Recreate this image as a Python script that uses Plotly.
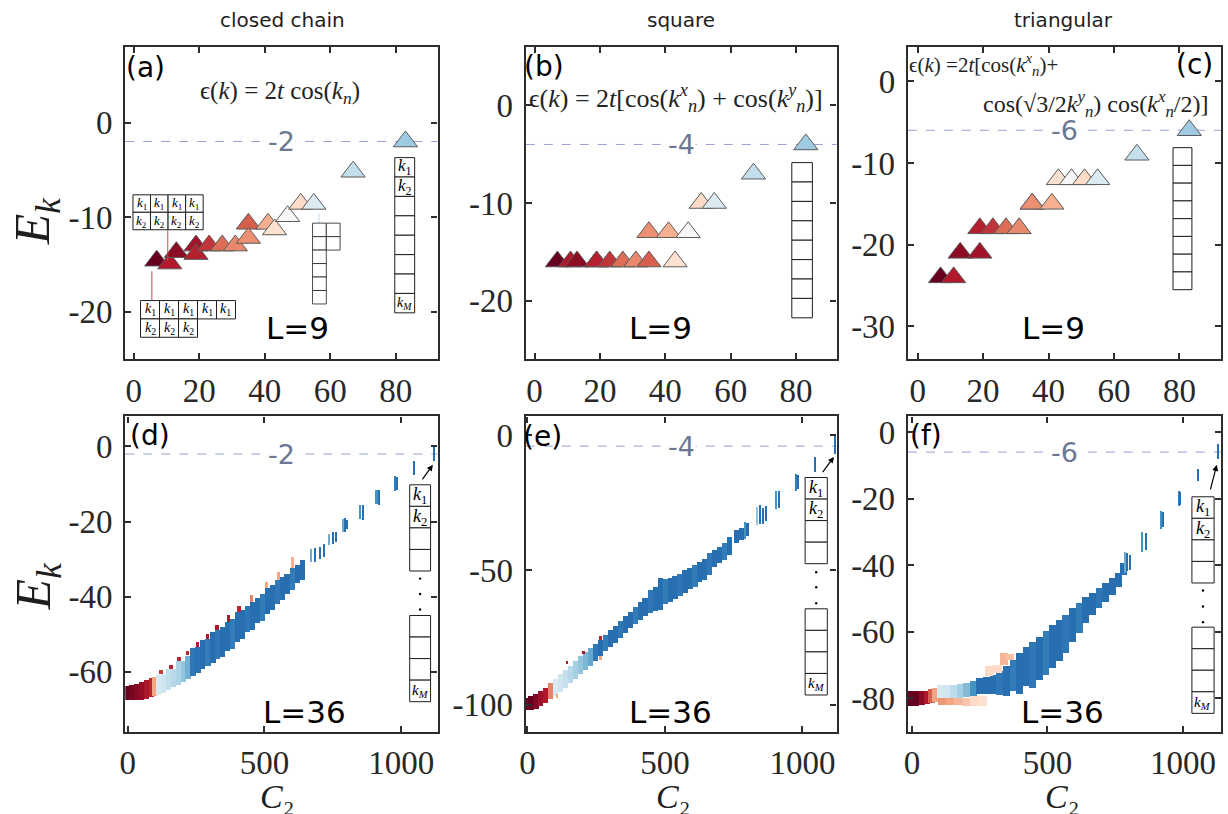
import plotly.graph_objects as go

W, H = 1228, 814

# ---------------- data ----------------
# top row (L=9): Casimir C2 and energies
c2_top = [7, 11, 13, 19, 19, 23, 27, 31, 35, 35, 41, 43, 47, 51, 55, 67, 83]
e_chain = [-14.6, -14.9, -13.7, -13.0, -13.9, -13.0, -13.0, -13.0, -10.7, -12.2, -10.7, -11.3, -9.9, -8.6, -8.6, -5.2, -2.0]
e_square = [-16, -16, -16, -16, -16, -16, -16, -16, -16, -13, -13, -16, -13, -10, -10, -7, -4]
e_tri = [-24, -24, -21, -21, -18, -18, -18, -18, -15, -15, -15, -12, -12, -12, -12, -9, -6]
col_top = [0.00, 0.10, 0.05, 0.08, 0.11, 0.14, 0.22, 0.26, 0.20, 0.27, 0.32, 0.42, 0.50, 0.40, 0.57, 0.62, 0.68]

# bottom row (L=36): dense band read as columns (C2, upper E, lower E, colour value)
d_c2 = [-4, 14, 32, 51, 69, 87, 99, 113, 131, 150, 168, 186, 204, 222, 240, 258, 276, 295, 313, 331,
        349, 367, 385, 403, 421, 440, 458, 476, 494, 512, 530, 548, 566, 584, 603, 621, 639]
d_hi = [-63.9, -63.7, -63.3, -62.8, -62.3, -61.8, -61.5, -60.9, -60.8, -59.5, -59.3, -57.4, -57.2, -55.9,
        -53.8, -53.6, -51.8, -51.5, -49.6, -49.1, -48.3, -47.0, -46.0, -44.3, -43.6, -42.7, -41.6, -40.4,
        -39.3, -37.7, -37.1, -35.7, -34.8, -34.0, -32.6, -31.7, -30.4]
d_lo = [-67.7, -67.7, -67.6, -67.6, -67.4, -67.0, -66.7, -66.3, -65.7, -65.0, -64.3, -63.6, -62.9, -62.2,
        -61.4, -60.5, -59.5, -58.6, -57.7, -56.8, -56.1, -54.5, -54.1, -52.3, -51.4, -49.6, -49.0, -47.2,
        -46.5, -44.7, -43.8, -42.0, -41.1, -39.3, -38.4, -36.6, -35.7]
d_col = [0.00, 0.02, 0.04, 0.06, 0.09, 0.12, 0.30, 0.58, 0.60, 0.62, 0.64, 0.66, 0.70, 0.74, 0.86, 0.87,
         0.88, 0.85, 0.88, 0.86, 0.88, 0.88, 0.85, 0.88, 0.88, 0.86, 0.88, 0.88, 0.85, 0.88, 0.88, 0.86,
         0.88, 0.88, 0.85, 0.88, 0.88]
# separated groups of levels at large C2
d_g_c2 = [672, 688, 704, 720, 738, 752, 764, 790, 798, 805, 852, 862, 912, 922, 978, 986, 1049, 1122]
d_g_hi = [-27.5, -27.2, -26.8, -26.2, -23.5, -23.0, -22.8, -19.4, -19.2, -19.6, -15.8, -15.6, -11.6, -11.8, -8.0, -8.2, -4.0, 0.0]
d_g_lo = [-31.0, -30.8, -30.2, -29.6, -26.4, -26.0, -25.5, -23.0, -22.9, -22.0, -19.5, -19.7, -15.4, -15.6, -12.0, -11.8, -7.6, -4.0]
d_g_col = [0.75, 0.88, 0.88, 0.88, 0.75, 0.88, 0.88, 0.75, 0.88, 0.88, 0.80, 0.88, 0.80, 0.88, 0.85, 0.88, 0.88, 0.88]
# red states on the upper edge
d_r_c2 = [123, 159, 189, 220, 256, 293, 328, 369, 408, 455, 508, 552, 603]
d_r_hi = [-59.7, -58.3, -56.3, -54.5, -52.3, -50.0, -47.8, -45.1, -42.6, -39.8, -36.2, -33.5, -29.5]
d_r_lo = [-60.8, -59.4, -57.2, -55.8, -53.6, -51.4, -49.1, -46.9, -44.2, -41.5, -37.7, -35.7, -32.6]
d_r_col = [0.15, 0.12, 0.12, 0.12, 0.10, 0.10, 0.10, 0.10, 0.12, 0.25, 0.30, 0.30, 0.32]

e_c2 = [-6, 12, 30, 48, 66, 84, 102, 120, 138, 156, 174, 193, 211, 229, 247, 265, 283, 301, 319, 337,
        355, 373, 391, 409, 427, 446, 464, 482, 500, 518, 536, 554, 572, 590, 608, 626, 644, 662, 680,
        698, 717, 735, 759, 777]
e_hi = [-97.5, -96.9, -96.3, -95.1, -93.8, -92.0, -90.5, -88.9, -87.3, -85.8, -84.0, -82.2, -80.7, -79.1,
        -77.5, -76.0, -74.2, -72.3, -70.8, -69.2, -67.4, -65.6, -64.0, -61.9, -60.6, -57.6, -56.5, -53.3,
        -53.5, -53.3, -52.5, -51.5, -50.2, -49.3, -48.3, -47.3, -46.2, -44.0, -42.8, -41.6, -40.0, -37.9,
        -35.4, -34.5]
e_lo = [-102.1, -102.1, -101.8, -100.6, -99.6, -98.2, -96.9, -95.4, -93.8, -92.2, -90.5, -88.9, -87.3,
        -85.8, -84.0, -82.2, -80.3, -78.7, -77.2, -75.4, -73.6, -71.7, -70.1, -68.6, -67.4, -66.2, -65.2,
        -64.9, -62.7, -61.9, -61.0, -59.8, -58.8, -57.3, -56.3, -54.5, -53.9, -52.0, -48.9, -47.7, -46.5,
        -44.6, -40.3, -39.0]
e_col = [0.00, 0.00, 0.03, 0.07, 0.10, 0.25, 0.58, 0.60, 0.62, 0.64, 0.67, 0.70, 0.73, 0.76, 0.86, 0.88,
         0.85, 0.88, 0.88, 0.86, 0.88, 0.88, 0.85, 0.88, 0.88, 0.86, 0.88, 0.88, 0.85, 0.88, 0.88, 0.86,
         0.88, 0.88, 0.85, 0.88, 0.88, 0.86, 0.88, 0.88, 0.85, 0.88, 0.88, 0.88]
e_g_c2 = [790, 800, 835, 845, 858, 866, 905, 915, 975, 983, 1045, 1118]
e_g_hi = [-32.3, -32.8, -26.6, -26.2, -27.0, -26.5, -20.7, -21.0, -14.5, -15.0, -8.4, -0.4]
e_g_lo = [-38.5, -37.5, -33.6, -33.2, -33.0, -32.0, -27.4, -27.0, -20.7, -20.0, -13.9, -7.1]
e_g_col = [0.80, 0.88, 0.70, 0.88, 0.88, 0.88, 0.80, 0.88, 0.85, 0.88, 0.88, 0.88]
e_r_c2 = [108, 144, 204, 265, 265]
e_r_hi = [-96.3, -84.0, -80.3, -74.8, -82.2]
e_r_lo = [-97.5, -85.2, -81.5, -76.0, -83.4]
e_r_col = [0.30, 0.10, 0.10, 0.12, 0.30]

f_c2 = [-12, 12, 37, 55, 73, 85, 104, 128, 152, 177, 201, 226, 250, 274, 299, 323, 348, 372, 396, 421,
        445, 470, 494, 518, 543, 567, 592, 616, 640, 665, 689, 714, 738, 762, 781]
f_hi = [-78.0, -78.0, -78.0, -78.0, -77.3, -77.0, -76.0, -76.0, -76.0, -75.8, -75.5, -75.0, -74.0, -73.8,
        -73.0, -72.0, -70.3, -68.5, -66.5, -64.7, -63.1, -61.6, -59.8, -58.1, -56.6, -55.1, -53.1, -51.6,
        -49.8, -48.4, -47.1, -45.6, -44.1, -42.4, -39.6]
f_lo = [-82.3, -82.3, -82.1, -81.7, -81.5, -81.3, -80.0, -80.0, -80.0, -80.0, -79.7, -79.3, -78.7, -78.7,
        -78.7, -79.0, -79.5, -78.0, -78.7, -76.5, -77.0, -74.5, -73.0, -71.0, -69.0, -66.5, -63.1, -60.6,
        -57.6, -55.1, -53.1, -51.1, -49.1, -46.6, -43.1]
f_col = [0.00, 0.00, 0.05, 0.10, 0.20, 0.30, 0.58, 0.60, 0.63, 0.67, 0.72, 0.80, 0.88, 0.88, 0.88, 0.86,
         0.88, 0.85, 0.88, 0.88, 0.86, 0.88, 0.85, 0.88, 0.88, 0.86, 0.88, 0.85, 0.88, 0.88, 0.86, 0.88,
         0.88, 0.88, 0.88]
f_g_c2 = [785, 795, 805, 850, 862, 918, 926, 984, 990, 1055, 1128]
f_g_hi = [-36.2, -36.5, -37.0, -30.2, -30.5, -23.7, -24.0, -17.7, -18.0, -11.2, -3.8]
f_g_lo = [-42.6, -42.0, -41.5, -36.1, -35.5, -29.2, -28.5, -22.2, -22.0, -14.7, -8.3]
f_g_col = [0.75, 0.88, 0.88, 0.80, 0.88, 0.80, 0.88, 0.85, 0.88, 0.88, 0.88]
f_r_c2 = [110, 140, 170, 200, 230, 260, 285, 315, 340, 360]
f_r_hi = [-80.0, -80.0, -80.0, -80.0, -79.5, -79.5, -70.5, -70.0, -66.5, -66.8]
f_r_lo = [-82.0, -82.0, -82.0, -82.3, -82.5, -82.5, -73.5, -72.5, -70.0, -68.5]
f_r_col = [0.28, 0.30, 0.33, 0.36, 0.40, 0.42, 0.40, 0.40, 0.33, 0.35]

# axis ticks
top_xticks = [0, 20, 40, 60, 80]
bot_xticks = [0, 500, 1000]
yt_a = [0, -10, -20]
yt_b = [0, -10, -20]
yt_c = [0, -10, -20, -30]
yt_d = [0, -20, -40, -60]
yt_e = [0, -50, -100]
yt_f = [0, -20, -40, -60, -80]

RDBU = [[0.0, 'rgb(103,0,31)'], [0.1, 'rgb(178,24,43)'], [0.2, 'rgb(214,96,77)'],
        [0.3, 'rgb(244,165,130)'], [0.4, 'rgb(253,219,199)'], [0.5, 'rgb(247,247,247)'],
        [0.6, 'rgb(209,229,240)'], [0.7, 'rgb(146,197,222)'], [0.8, 'rgb(67,147,195)'],
        [0.9, 'rgb(33,102,172)'], [1.0, 'rgb(5,48,97)']]

SERIF = "Liberation Serif"
SANS = "DejaVu Sans"
AX = "rgb(45,45,45)"


def px(x):
    return x / W


def py(y):
    return 1 - y / H


fig = go.Figure()

# ---- top row triangles ----
for k, ev in zip(['', '2', '3'], [e_chain, e_square, e_tri]):
    fig.add_trace(go.Scatter(
        x=c2_top, y=ev, mode='markers', xaxis='x' + k, yaxis='y' + k, showlegend=False,
        marker=dict(symbol='triangle-up', size=21, color=col_top, colorscale=RDBU, cmin=0, cmax=1,
                    line=dict(color='rgb(90,90,90)', width=1))))


def band(c2, hi, lo, col, ax, width):
    fig.add_trace(go.Bar(
        x=c2, y=[h - l for h, l in zip(hi, lo)], base=lo, width=width,
        xaxis='x' + ax, yaxis='y' + ax, showlegend=False,
        marker=dict(color=col, colorscale=RDBU, cmin=0, cmax=1, line=dict(width=0))))


band(d_c2, d_hi, d_lo, d_col, '4', 19)
band(d_g_c2, d_g_hi, d_g_lo, d_g_col, '4', 6)
band(d_r_c2, d_r_hi, d_r_lo, d_r_col, '4', 12)
band(e_c2, e_hi, e_lo, e_col, '5', 19)
band(e_g_c2, e_g_hi, e_g_lo, e_g_col, '5', 6)
band(e_r_c2, e_r_hi, e_r_lo, e_r_col, '5', 7)
band(f_c2, f_hi, f_lo, f_col, '6', 25)
band(f_g_c2, f_g_hi, f_g_lo, f_g_col, '6', 6)
band(f_r_c2, f_r_hi, f_r_lo, f_r_col, '6', 30)

# ---- axes ----
cols = [(119, 433), (521.7, 834.3), (906, 1221)]
rows = [(45, 358), (415.5, 731.5)]
xr = [[-2.6, 92.8], [-2.7, 92.4], [-3.0, 92.7], [-8.7, 1133], [-6, 1124], [-15, 1140]]
yr = [[-25, 8], [-26, 6], [-34, 4.2], [-76, 8], [-110, 7], [-90, 4.7]]
yts = [yt_a, yt_b, yt_c, yt_d, yt_e, yt_f]

layout = {}
for i in range(6):
    r, c = divmod(i, 3)
    sfx = '' if i == 0 else str(i + 1)
    xt = top_xticks if r == 0 else bot_xticks
    common = dict(showline=True, linecolor=AX, linewidth=2.2, mirror='ticks', ticks='inside',
                  ticklen=6, tickwidth=1.5, tickcolor=AX, showgrid=False, zeroline=False,
                  tickfont=dict(family=SERIF, size=33, color='rgb(40,40,40)'))
    layout['xaxis' + sfx] = dict(
        common, domain=[px(cols[c][0]), px(cols[c][1])], range=xr[i], anchor='y' + sfx,
        tickmode='array', tickvals=xt, ticktext=[str(v) for v in xt],
        ticklabelstandoff=1)
    layout['yaxis' + sfx] = dict(
        common, domain=[py(rows[r][1]), py(rows[r][0])], range=yr[i], anchor='x' + sfx,
        tickmode='array', tickvals=yts[i], ticktext=[str(v) for v in yts[i]], ticklabelstandoff=4)

fig.update_layout(**layout)

shapes = []
ann = []

# reference (dashed) lines with their labels
for i, lev in enumerate([-2, -4, -6, -2, -4, -6]):
    sfx = '' if i == 0 else str(i + 1)
    shapes.append(dict(type='line', xref='x' + sfx + ' domain', yref='y' + sfx, x0=0, x1=1, y0=lev, y1=lev,
                       line=dict(color='rgba(140,150,205,0.9)', width=1, dash='dash'), layer='below'))
    ann.append(dict(xref='x' + sfx + ' domain', yref='y' + sfx, x=0.5, y=lev, text=str(lev),
                    showarrow=False, font=dict(family=SANS, size=27, color='rgb(108,120,146)'),
                    bgcolor='white', xanchor='center', yanchor='middle', borderpad=0))


def text(x, y, t, size, family=SANS, xanchor='center', color='black', angle=0):
    ann.append(dict(xref='paper', yref='paper', x=px(x), y=py(y), text=t, showarrow=False,
                    font=dict(family=family, size=size, color=color), xanchor=xanchor,
                    yanchor='middle', textangle=angle))


def rect(x0, y0, x1, y1, w=1):
    shapes.append(dict(type='rect', xref='paper', yref='paper', x0=px(x0), x1=px(x1), y0=py(y1), y1=py(y0),
                       line=dict(color='rgb(30,30,30)', width=w), fillcolor='white', layer='above'))


def line(x0, y0, x1, y1, color, w=1):
    shapes.append(dict(type='line', xref='paper', yref='paper', x0=px(x0), x1=px(x1), y0=py(y0), y1=py(y1),
                       line=dict(color=color, width=w), layer='above'))


K1 = '<i>k</i><sub>1</sub>'
K2 = '<i>k</i><sub>2</sub>'
KM = '<i>k</i><sub><i>M</i></sub>'

# column titles
text(277, 18, 'closed chain', 20, color='rgb(30,30,30)')
text(678, 18, 'square', 20, color='rgb(30,30,30)')
text(1063, 18, 'triangular', 20, color='rgb(30,30,30)')

# panel tags
text(118, 66, '(a)', 28, xanchor='left')
text(518, 65, '(b)', 28, xanchor='left')
text(1215, 63, '(c)', 28, xanchor='right')
text(122, 435, '(d)', 28, xanchor='left')
text(517, 436, '(e)', 28, xanchor='left')
text(906, 435, '(f)', 28, xanchor='left')

# L labels
for (x, y, t) in [(292, 327, 'L=9'), (657, 327, 'L=9'), (1053, 327, 'L=9'),
                  (299, 712, 'L=36'), (667, 712, 'L=36'), (1062, 712, 'L=36')]:
    text(x, y, t, 31)

# dispersion formulas
text(275, 91, 'ϵ(<i>k</i>) = 2<i>t</i> cos(<i>k<sub>n</sub></i>)', 25, family=SERIF, color='rgb(35,35,35)')
text(523, 96, 'ϵ(<i>k</i>) = 2<i>t</i>[cos(<i>k</i><sup><i>x</i></sup><sub><i>n</i></sub>) + cos(<i>k</i><sup><i>y</i></sup><sub><i>n</i></sub>)]',
     26, family=SERIF, xanchor='left', color='rgb(35,35,35)')
text(905, 63, 'ϵ(<i>k</i>) =2<i>t</i>[cos(<i>k</i><sup><i>x</i></sup><sub><i>n</i></sub>)+', 21, family=SERIF,
     xanchor='left', color='rgb(35,35,35)')
text(1210, 102, 'cos(√3/2<i>k</i><sup><i>y</i></sup><sub><i>n</i></sub>) cos(<i>k</i><sup><i>x</i></sup><sub><i>n</i></sub>/2)]',
     24, family=SERIF, xanchor='right', color='rgb(35,35,35)')

# axis titles
text(30, 219, '<i>E<sub>k</sub></i>', 50, family=SERIF, angle=-90, color='rgb(30,30,30)')
text(30, 585, '<i>E<sub>k</sub></i>', 50, family=SERIF, angle=-90, color='rgb(30,30,30)')
for x in [272, 670, 1062]:
    text(x, 796, '<i>C</i>₂', 34, family=SERIF, color='rgb(30,30,30)')

# ---- Young diagrams (decorations) ----
# (a) connectors
line(145.7, 270, 145.7, 299.3, 'rgb(205,70,70)')
line(161.7, 229, 161.7, 260, 'rgb(205,70,70)')
line(313.7, 211.7, 313.7, 221.7, 'rgb(190,220,240)')
# (a) 4x2 diagram
cw, ch = 17.65, 17.5
for j in range(4):
    for i in range(2):
        rect(126.7 + j * cw, 193.3 + i * ch, 126.7 + (j + 1) * cw, 193.3 + (i + 1) * ch)
        text(126.7 + (j + 0.5) * cw, 193.3 + (i + 0.5) * ch, K1 if i == 0 else K2, 13, family=SERIF)
# (a) 5+3 diagram
cw, ch = 19.1, 18.4
for i, n in enumerate([5, 3]):
    for j in range(n):
        rect(134.3 + j * cw, 299.3 + i * ch, 134.3 + (j + 1) * cw, 299.3 + (i + 1) * ch)
        text(134.3 + (j + 0.5) * cw, 299.3 + (i + 0.5) * ch, K1 if i == 0 else K2, 14, family=SERIF)
# (a) 2,2,1,1,1,1 diagram
cw, ch = 13.85, 13.5
for i, n in enumerate([2, 2, 1, 1, 1, 1]):
    for j in range(n):
        rect(307.3 + j * cw, 221.7 + i * ch, 307.3 + (j + 1) * cw, 221.7 + (i + 1) * ch, 0.8)
# right columns in top row
for (x0, x1, y0, hh, lab) in [(390, 410, 156, 19.45, True), (789.3, 810, 161, 19.45, False),
                              (1172.7, 1191.7, 146, 17.8, False)]:
    for i in range(8):
        rect(x0, y0 + i * hh, x1, y0 + (i + 1) * hh)
    if lab:
        text((x0 + x1) / 2, y0 + 0.5 * hh, K1, 17, family=SERIF)
        text((x0 + x1) / 2, y0 + 1.5 * hh, K2, 17, family=SERIF)
        text((x0 + x1) / 2, y0 + 7.5 * hh, KM, 14, family=SERIF)
# bottom row columns with dots and arrows
for (x0, x1, yu, yl, dots, head, tail) in [
        (405, 426, 484, 615, (578, 593.5, 609), (428.3, 464), (416.7, 480)),
        (802.7, 825, 476.7, 608.3, (571.7, 586.7, 602.7), (831.7, 456), (819.3, 472.7)),
        (1191.7, 1214, 496, 626.7, (590, 606, 621.7), (1216.7, 464), (1210, 490))]:
    hh = 21.6
    for i in range(4):
        rect(x0, yu + i * hh, x1, yu + (i + 1) * hh)
        rect(x0, yl + i * hh, x1, yl + (i + 1) * hh)
    xc = (x0 + x1) / 2
    text(xc, yu + 0.5 * hh, K1, 18, family=SERIF)
    text(xc, yu + 1.5 * hh, K2, 18, family=SERIF)
    text(xc, yl + 3.5 * hh, KM, 15, family=SERIF)
    for yd in dots:
        shapes.append(dict(type='circle', xref='paper', yref='paper', x0=px(xc - 1.2), x1=px(xc + 1.2),
                           y0=py(yd + 1.2), y1=py(yd - 1.2), fillcolor='black', line=dict(width=0)))
    ann.append(dict(xref='paper', yref='paper', x=px(head[0]), y=py(head[1]), ax=tail[0] - head[0],
                    ay=tail[1] - head[1], text='', showarrow=True, arrowhead=2, arrowsize=1,
                    arrowwidth=1.2, arrowcolor='black'))

fig.update_layout(
    width=W, height=H, autosize=False, margin=dict(l=0, r=0, t=0, b=0),
    paper_bgcolor='white', plot_bgcolor='white', barmode='overlay', bargap=0,
    shapes=shapes, annotations=ann, showlegend=False)

fig.write_html("out.html", config={'displayModeBar': False},
               post_script="document.body.style.margin='0';document.body.style.overflow='hidden';")
